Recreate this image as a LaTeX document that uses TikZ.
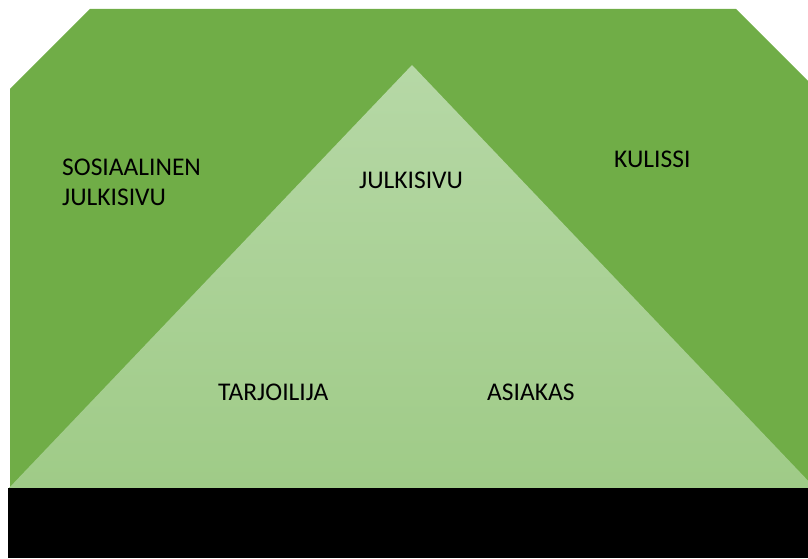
\documentclass[tikz,border=0pt]{standalone}
\usepackage{fontspec}
\setmainfont{Carlito}
\definecolor{darkgreen}{HTML}{70AD47}
\definecolor{tritop}{HTML}{B6D8A6}
\definecolor{tribot}{HTML}{9FCB87}
\begin{document}
\begin{tikzpicture}[x=1pt,y=1pt,
  lbl/.style={anchor=base west,inner sep=0pt,font=\fontsize{25.5}{30}\selectfont,text=black}]
\useasboundingbox (0,0) rectangle (808,558);
\clip (0,0) rectangle (808,558);
% green background (octagon, cut corners)
\fill[darkgreen] (10,70) -- (10,469) -- (90,549) -- (736,549) -- (818,467) -- (818,70) -- cycle;
% light triangle
\shade[top color=tritop,bottom color=tribot] (9,70) -- (412,493) -- (815,70) -- cycle;
% black bar
\fill[black] (8,0) rectangle (808,70);
% labels
\node[lbl] (soc1) at (62,383) {SOSIAALINEN};
\node[lbl] (soc2) at (62,353) {JULKISIVU};
\node[lbl] (front) at (359,370) {JULKISIVU};
\node[lbl] (back) at (614,390) {KULISSI};
\node[lbl] (waiter) at (218,158) {TARJOILIJA};
\node[lbl] (client) at (487,158) {ASIAKAS};
\end{tikzpicture}
\end{document}
